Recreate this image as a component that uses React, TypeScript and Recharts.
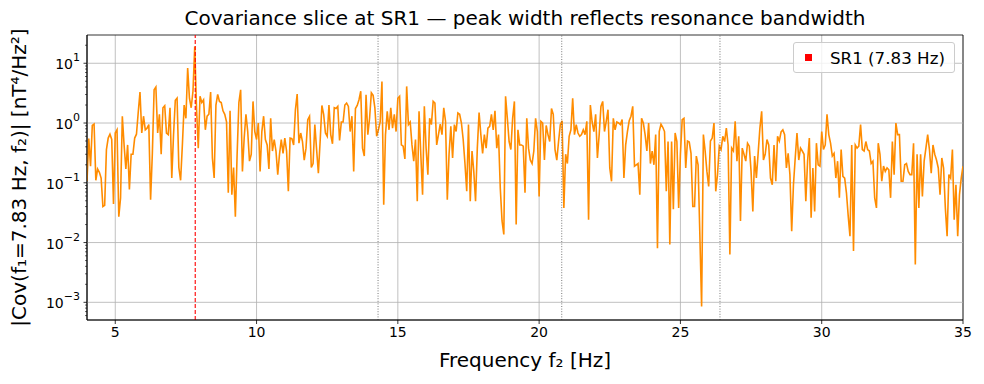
import React from "react";
import {
  LineChart,
  Line,
  XAxis,
  YAxis,
  CartesianGrid,
  ReferenceLine,
  ReferenceArea,
  Legend,
} from "recharts";

// Frequency grid of the covariance slice (Hz)
const FREQ_START = 4;
const FREQ_STEP = 0.0625;

// |Cov(f1 = 7.83 Hz, f2)| per f2 bin, nT^4/Hz^2
const COV_VALUES = [
  0.107, 0.55, 0.19, 0.91, 0.96, 0.11, 0.17, 0.15, 0.12, 0.04,
  0.042, 0.36, 0.56, 0.65, 0.53, 0.044, 0.68, 0.77, 0.027, 0.056,
  1.3, 0.43, 0.17, 0.43, 0.077, 0.3, 0.3, 0.56, 0.65, 1.5,
  3.3, 0.68, 1.3, 0.77, 0.82, 0.94, 0.052, 0.31, 3.6, 4.0,
  0.68, 1.4, 0.3, 1.8, 1.95, 0.68, 0.64, 1.8, 0.12, 0.64,
  2.4, 2.6, 0.18, 0.11, 0.43, 2.0, 1.2, 8.3, 2.6, 1.8,
  3.4, 19, 1.8, 0.38, 2.8, 2.2, 2.45, 0.77, 1.3, 1.4,
  3.3, 0.26, 0.12, 2.0, 3.0, 2.3, 2.2, 1.6, 1.4, 1.05,
  0.068, 1.6, 0.063, 0.18, 0.027, 0.3, 2.2, 3.6, 0.155, 0.56,
  1.4, 0.72, 0.23, 0.3, 2.3, 0.72, 0.53, 1.0, 0.155, 0.72,
  1.3, 0.53, 0.43, 0.17, 1.2, 0.34, 0.53, 0.34, 0.137, 0.3,
  0.53, 0.31, 0.56, 0.34, 0.072, 0.56, 0.55, 0.43, 1.67, 3.05,
  0.46, 0.68, 0.49, 0.24, 0.38, 1.14, 1.3, 0.18, 0.21, 0.94,
  0.36, 0.145, 0.49, 1.97, 1.4, 0.68, 0.6, 2.0, 0.64, 0.45,
  1.8, 1.75, 1.9, 0.51, 1.04, 1.04, 2.0, 2.15, 1.9, 0.72,
  1.3, 0.155, 1.75, 1.97, 2.45, 3.4, 0.38, 0.28, 2.97, 0.64,
  1.2, 3.2, 2.9, 1.8, 0.6, 0.77, 1.04, 4.95, 0.043, 0.64,
  1.57, 0.77, 1.8, 0.82, 1.4, 0.72, 2.6, 2.8, 0.43, 0.41,
  0.25, 4.1, 0.94, 1.04, 0.43, 0.23, 0.53, 0.049, 1.57, 0.3,
  0.063, 1.9, 0.38, 0.137, 1.2, 0.94, 2.3, 2.15, 0.43, 0.64,
  0.96, 0.64, 1.8, 1.07, 0.052, 0.3, 0.88, 0.26, 0.94, 0.72,
  1.47, 1.4, 1.0, 0.53, 0.21, 0.072, 0.94, 0.049, 0.34, 0.155,
  0.049, 0.38, 1.5, 0.64, 0.31, 0.64, 0.38, 0.82, 0.88, 1.4,
  0.77, 1.6, 0.38, 0.64, 0.082, 0.023, 0.0137, 2.8, 1.2, 0.49,
  0.36, 1.2, 2.3, 0.02, 0.77, 0.43, 0.43, 0.41, 0.068, 1.2,
  0.38, 0.24, 0.21, 0.34, 1.2, 0.72, 0.059, 1.07, 1.0, 0.24,
  0.91, 0.64, 0.49, 1.75, 1.4, 0.36, 0.24, 0.49, 0.94, 1.09,
  0.038, 0.3, 0.21, 0.6, 0.77, 2.6, 0.64, 0.94, 0.68, 0.6,
  0.64, 0.77, 0.64, 1.07, 0.024, 2.0, 1.04, 0.72, 1.4, 0.26,
  0.64, 1.9, 2.3, 0.72, 1.07, 1.67, 0.177, 0.106, 1.2, 0.77,
  1.04, 1.0, 0.94, 1.14, 0.12, 0.43, 0.72, 1.09, 1.3, 1.9,
  0.19, 0.2, 0.21, 0.063, 1.2, 1.0, 0.64, 0.34, 1.0, 0.21,
  0.34, 0.2, 0.64, 0.008, 0.72, 0.96, 0.85, 0.72, 0.072, 0.49,
  0.0093, 0.49, 0.036, 0.68, 0.49, 0.038, 0.3, 1.14, 1.2, 0.177,
  0.5, 0.48, 0.31, 0.04, 0.04, 0.28, 0.2, 0.0136, 0.00085, 0.64,
  0.34, 0.155, 0.087, 0.5, 0.56, 1.0, 0.072, 0.137, 0.41, 0.36,
  0.6, 0.49, 0.82, 0.43, 0.0063, 0.38, 0.34, 1.07, 0.23, 0.6,
  0.023, 0.38, 0.3, 0.23, 0.46, 0.41, 0.155, 0.033, 0.28, 0.12,
  0.31, 0.82, 1.57, 0.24, 0.3, 0.53, 0.43, 0.12, 0.093, 0.43,
  0.106, 0.6, 0.5, 0.71, 0.77, 0.64, 0.177, 0.31, 0.137, 0.0155,
  0.093, 0.26, 0.68, 0.24, 0.38, 0.34, 0.3, 0.049, 0.23, 0.56,
  0.026, 0.177, 0.033, 0.46, 0.2, 0.19, 0.72, 0.36, 0.43, 1.4,
  0.64, 0.46, 0.28, 0.31, 0.12, 0.23, 0.056, 0.36, 0.128, 0.12,
  0.068, 0.028, 0.0128, 0.43, 0.0072, 0.43, 0.38, 0.41, 0.94, 0.36,
  0.34, 0.49, 0.36, 0.34, 0.21, 0.23, 0.056, 0.038, 0.46, 0.3,
  0.106, 0.19, 0.155, 0.177, 0.165, 0.056, 0.49, 0.137, 1.0, 0.64,
  0.64, 0.106, 0.106, 0.2, 0.21, 0.155, 0.137, 0.137, 0.46, 0.0043,
  0.3, 0.038, 0.3, 0.059, 0.23, 0.38, 0.64, 0.36, 0.145, 0.43,
  0.3, 0.24, 0.177, 0.063, 0.26, 0.177, 0.038, 0.0128, 0.137, 0.12,
  0.36, 0.024, 0.093, 0.0128, 0.063, 0.12, 0.19,
];

// Schumann resonance markers
const SR1 = 7.83;
const SR_HIGHER = [14.3, 20.8, 26.4];

const X_DOMAIN: [number, number] = [4, 35];
const X_TICKS = [5, 10, 15, 20, 25, 30, 35];
const Y_DOMAIN: [number, number] = [5.06e-4, 29.7];
const Y_MAJOR = [0.001, 0.01, 0.1, 1, 10];
const Y_MINOR = [1e-4, 1e-3, 1e-2, 1e-1, 1, 10]
  .flatMap((d) => [2, 3, 4, 5, 6, 7, 8, 9].map((m) => m * d))
  .filter((v) => v > Y_DOMAIN[0] && v < Y_DOMAIN[1]);

const FONT = "'DejaVu Sans', sans-serif";

// layout: y axis sits at margin.left + y axis width
const MARGIN = { top: 35, right: 21, bottom: 34, left: 7 };
const Y_AXIS_WIDTH = 80;
const AXIS_X = MARGIN.left + Y_AXIS_WIDTH;

const data = COV_VALUES.map((v, i) => ({ f: FREQ_START + i * FREQ_STEP, cov: v }));

const YTick = (props: any) => {
  const { y, payload } = props;
  const v = payload.value;
  const x = AXIS_X;
  if (!Y_MAJOR.includes(v)) {
    return <line x1={x - 2} x2={x} y1={y} y2={y} stroke="#000" strokeWidth={0.6} />;
  }
  const exp = Math.round(Math.log10(v));
  const expText = exp < 0 ? `\u2212${Math.abs(exp)}` : `${exp}`;
  return (
    <g>
      <line x1={x - 3.5} x2={x} y1={y} y2={y} stroke="#000" strokeWidth={0.8} />
      <text x={x - 7} y={y + 6} textAnchor="end" fontSize={14} fill="#000" fontFamily={FONT}>
        10
        <tspan dy={-8} fontSize={11}>
          {expText}
        </tspan>
      </text>
    </g>
  );
};

const LegendBox = () => (
  <div
    style={{
      boxSizing: "border-box",
      width: 162,
      height: 31,
      border: "1px solid #cccccc",
      borderRadius: 3,
      background: "rgba(255,255,255,0.8)",
      display: "flex",
      alignItems: "center",
      fontFamily: FONT,
      fontSize: 16.7,
      color: "#000",
    }}
  >
    <span style={{ display: "inline-block", width: 7, height: 7, background: "#ff0000", marginLeft: 11, marginRight: 18 }} />
    <span>SR1 (7.83 Hz)</span>
  </div>
);

export default function App() {
  return (
    <div style={{ position: "absolute", left: 0, top: 0, width: 984, height: 384, background: "#fff", fontFamily: FONT }}>
      <div
        style={{
          position: "absolute",
          top: 7,
          left: 87,
          width: 876,
          textAlign: "center",
          fontSize: 20,
          lineHeight: "23px",
          color: "#000",
          zIndex: 2,
        }}
      >
        Covariance slice at SR1 — peak width reflects resonance bandwidth
      </div>
      <LineChart width={984} height={384} data={data} margin={MARGIN}>
        <CartesianGrid horizontal={false} stroke="#b0b0b0" strokeWidth={0.8} />
        {Y_MAJOR.map((v) => (
          <ReferenceLine key={`gy-${v}`} y={v} stroke="#b0b0b0" strokeWidth={0.8} />
        ))}
        <XAxis
          dataKey="f"
          type="number"
          domain={X_DOMAIN}
          ticks={X_TICKS}
          allowDataOverflow
          height={30}
          tickSize={4}
          tickMargin={3}
          tickLine={{ stroke: "#000", strokeWidth: 0.8 }}
          axisLine={{ stroke: "#000", strokeWidth: 0.8 }}
          tick={{ fill: "#000", fontSize: 14, fontFamily: FONT }}
          label={(p: any) => {
            const vb = p.viewBox;
            return (
              <text x={vb.x + vb.width / 2} y={367} textAnchor="middle" fontSize={20} fill="#000" fontFamily={FONT}>
                Frequency f₂ [Hz]
              </text>
            );
          }}
        />
        <YAxis
          type="number"
          scale="log"
          domain={Y_DOMAIN}
          allowDataOverflow
          ticks={[...Y_MINOR, ...Y_MAJOR].sort((a, b) => a - b)}
          interval={0}
          width={Y_AXIS_WIDTH}
          tickSize={0}
          tickMargin={0}
          tickLine={false}
          axisLine={{ stroke: "#000", strokeWidth: 0.8 }}
          tick={<YTick />}
          label={(p: any) => {
            const vb = p.viewBox;
            const cy = vb.y + vb.height / 2;
            return (
              <text
                x={26}
                y={cy}
                transform={`rotate(-90, 26, ${cy})`}
                textAnchor="middle"
                fontSize={20}
                fill="#000"
                fontFamily={FONT}
              >
                |Cov(f₁=7.83 Hz, f₂)| [nT⁴/Hz²]
              </text>
            );
          }}
        />
        <Line
          type="linear"
          dataKey="cov"
          stroke="#ff8c00"
          strokeWidth={1.6}
          dot={false}
          activeDot={false}
          isAnimationActive={false}
        />
        <ReferenceLine x={SR1} stroke="#ff0000" strokeWidth={1.1} strokeDasharray="4 2" />
        {SR_HIGHER.map((f) => (
          <ReferenceLine key={`sr-${f}`} x={f} stroke="#555555" strokeWidth={0.8} strokeDasharray="1 1.6" />
        ))}
        <ReferenceArea
          x1={X_DOMAIN[0]}
          x2={X_DOMAIN[1]}
          y1={Y_DOMAIN[0]}
          y2={Y_DOMAIN[1]}
          fill="none"
          stroke="#000"
          strokeWidth={0.8}
        />
        <Legend
          layout="horizontal"
          verticalAlign="middle"
          align="center"
          content={() => <LegendBox />}
          wrapperStyle={{ left: 793, top: 42, width: 162, height: 31 }}
        />
      </LineChart>
    </div>
  );
}
